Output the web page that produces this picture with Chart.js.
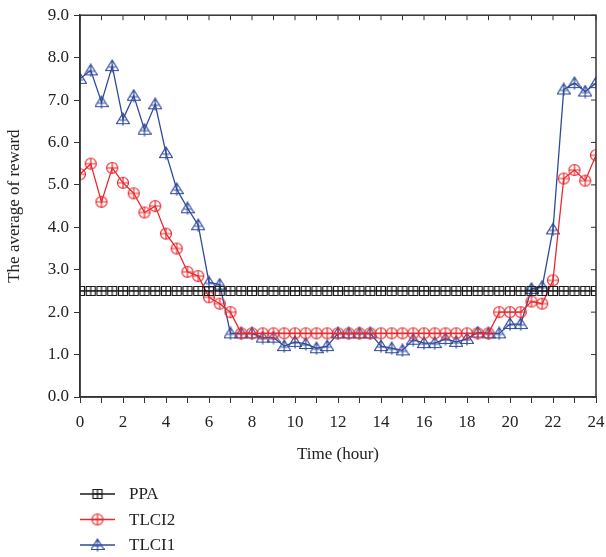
<!DOCTYPE html>
<html>
<head>
<meta charset="utf-8">
<script src="https://cdn.jsdelivr.net/npm/chart.js@4.4.1/dist/chart.umd.min.js"></script>
<style>
  html, body { margin: 0; padding: 0; background: #fff; }
  #wrap { width: 606px; height: 557px; position: relative; }
</style>
</head>
<body>
<div id="wrap"><canvas id="rewardChart"></canvas></div>
<script>
// Data
const hours = [0, 0.5, 1, 1.5, 2, 2.5, 3, 3.5, 4, 4.5, 5, 5.5, 6, 6.5, 7, 7.5, 8, 8.5, 9, 9.5,
  10, 10.5, 11, 11.5, 12, 12.5, 13, 13.5, 14, 14.5, 15, 15.5, 16, 16.5, 17, 17.5, 18, 18.5, 19, 19.5,
  20, 20.5, 21, 21.5, 22, 22.5, 23, 23.5, 24];

const ppa = [2.5, 2.5, 2.5, 2.5, 2.5, 2.5, 2.5, 2.5, 2.5, 2.5, 2.5, 2.5, 2.5, 2.5, 2.5, 2.5, 2.5, 2.5, 2.5, 2.5,
  2.5, 2.5, 2.5, 2.5, 2.5, 2.5, 2.5, 2.5, 2.5, 2.5, 2.5, 2.5, 2.5, 2.5, 2.5, 2.5, 2.5, 2.5, 2.5, 2.5,
  2.5, 2.5, 2.5, 2.5, 2.5, 2.5, 2.5, 2.5, 2.5];

const tlci2 = [5.25, 5.5, 4.6, 5.4, 5.05, 4.8, 4.35, 4.5, 3.85, 3.5, 2.95, 2.85, 2.35, 2.2, 2.0, 1.5, 1.5, 1.5, 1.5, 1.5,
  1.5, 1.5, 1.5, 1.5, 1.5, 1.5, 1.5, 1.5, 1.5, 1.5, 1.5, 1.5, 1.5, 1.5, 1.5, 1.5, 1.5, 1.5, 1.5, 2.0,
  2.0, 2.0, 2.25, 2.2, 2.75, 5.15, 5.35, 5.1, 5.7];

const tlci1 = [7.5, 7.7, 6.95, 7.8, 6.55, 7.1, 6.3, 6.9, 5.75, 4.9, 4.45, 4.05, 2.7, 2.65, 1.5, 1.5, 1.5, 1.4, 1.4, 1.2,
  1.3, 1.25, 1.15, 1.2, 1.5, 1.5, 1.5, 1.5, 1.2, 1.15, 1.1, 1.35, 1.27, 1.27, 1.37, 1.3, 1.37, 1.52, 1.5, 1.5,
  1.72, 1.72, 2.55, 2.6, 3.95, 7.25, 7.4, 7.2, 7.4];

const seriesNames = ['PPA', 'TLCI2', 'TLCI1'];
const xTickMax = 24;
const yTickMax = 9;

const colors = { PPA: '#1a1a1a', TLCI2: '#e8282c', TLCI1: '#2f4a9c' };
const serif = "'Liberation Serif', 'DejaVu Serif', serif";

// Marker images: square/circle/triangle with a cross inside
function makeMarker(kind, color) {
  const c = document.createElement('canvas');
  const s = 14;
  c.width = s; c.height = s;
  const g = c.getContext('2d');
  g.strokeStyle = color;
  g.lineWidth = 1.2;
  const m = s / 2;
  g.beginPath();
  if (kind === 'square') {
    g.rect(m - 4.5, m - 4.5, 9, 9);
    g.moveTo(m, m - 4.5); g.lineTo(m, m + 4.5);
    g.moveTo(m - 4.5, m); g.lineTo(m + 4.5, m);
  } else if (kind === 'circle') {
    g.arc(m, m, 5.5, 0, Math.PI * 2);
    g.moveTo(m, m - 5.5); g.lineTo(m, m + 5.5);
    g.moveTo(m - 5.5, m); g.lineTo(m + 5.5, m);
  } else {
    g.moveTo(m, m - 6); g.lineTo(m + 6.5, m + 4.5); g.lineTo(m - 6.5, m + 4.5); g.closePath();
    g.moveTo(m, m - 6); g.lineTo(m, m + 6.5);
    g.moveTo(m - 3.5, m + 1); g.lineTo(m + 3.5, m + 1);
  }
  g.stroke();
  return c;
}

const markers = {
  PPA: makeMarker('square', colors.PPA),
  TLCI2: makeMarker('circle', colors.TLCI2),
  TLCI1: makeMarker('triangle', colors.TLCI1)
};

// Frame plus inward ticks on top and right
const framePlugin = {
  id: 'frame',
  afterDraw(chart) {
    const { ctx, chartArea: a, scales } = chart;
    ctx.save();
    ctx.strokeStyle = '#333';
    ctx.lineWidth = 1.5;
    ctx.strokeRect(a.left, a.top, a.right - a.left, a.bottom - a.top);
    ctx.lineWidth = 1;
    ctx.beginPath();
    scales.x.ticks.forEach(t => {
      const px = scales.x.getPixelForValue(t.value);
      ctx.moveTo(px, a.top); ctx.lineTo(px, a.top + 5);
    });
    scales.y.ticks.forEach(t => {
      const py = scales.y.getPixelForValue(t.value);
      ctx.moveTo(a.right, py); ctx.lineTo(a.right - 5, py);
    });
    ctx.stroke();
    ctx.restore();
  }
};

// Vertical legend below the plot
const legendPlugin = {
  id: 'stackLegend',
  afterDraw(chart) {
    const ctx = chart.ctx;
    ctx.save();
    ctx.font = '17px ' + serif;
    ctx.textBaseline = 'middle';
    seriesNames.forEach((name, i) => {
      const y = 494 + i * 25.5;
      ctx.strokeStyle = colors[name];
      ctx.lineWidth = 1.3;
      ctx.beginPath();
      ctx.moveTo(80, y); ctx.lineTo(115, y);
      ctx.stroke();
      const img = markers[name];
      ctx.drawImage(img, 97.5 - img.width / 2, y - img.height / 2);
      ctx.fillStyle = '#222';
      ctx.fillText(name, 129, y + 1);
    });
    ctx.restore();
  }
};

const datasets = [
  { label: 'PPA', data: ppa },
  { label: 'TLCI2', data: tlci2 },
  { label: 'TLCI1', data: tlci1 }
].map(d => ({
  label: d.label,
  data: hours.map((h, i) => ({ x: h, y: d.data[i] })),
  borderColor: colors[d.label],
  backgroundColor: 'transparent',
  pointBackgroundColor: 'transparent',
  borderWidth: 1.3,
  pointStyle: markers[d.label],
  pointRadius: 6,
  pointHoverRadius: 6,
  tension: 0,
  fill: false
}));

new Chart(document.getElementById('rewardChart'), {
  type: 'line',
  data: { datasets: datasets },
  options: {
    responsive: true,
    maintainAspectRatio: false,
    animation: false,
    events: [],
    layout: { padding: { left: 0, top: 14, right: 10, bottom: 88 } },
    plugins: {
      legend: { display: false },
      tooltip: { enabled: false }
    },
    scales: {
      x: {
        type: 'linear',
        min: 0,
        max: xTickMax,
        afterFit: s => { s.height = 72; s.paddingRight = 0; },
        grid: { drawOnChartArea: false, drawTicks: true, tickLength: 6, color: '#333' },
        border: { display: true, color: '#333', width: 1.5 },
        ticks: {
          stepSize: 1,
          autoSkip: false,
          maxRotation: 0,
          padding: 9,
          color: '#222',
          font: { family: serif, size: 17 },
          callback: v => (v % 2 === 0 ? String(v) : '')
        },
        title: {
          display: true,
          text: 'Time (hour)',
          color: '#222',
          font: { family: serif, size: 17 },
          padding: { top: 2 }
        }
      },
      y: {
        min: 0,
        max: yTickMax,
        afterFit: s => { s.width = 80; },
        grid: { drawOnChartArea: false, drawTicks: true, tickLength: 6, color: '#333' },
        border: { display: true, color: '#333', width: 1.5 },
        ticks: {
          stepSize: 0.5,
          padding: 5,
          color: '#222',
          font: { family: serif, size: 17 },
          callback: v => v.toFixed(1)
        },
        title: {
          display: true,
          text: 'The average of reward',
          color: '#222',
          font: { family: serif, size: 17 },
          padding: { bottom: 2 }
        }
      }
    }
  },
  plugins: [framePlugin, legendPlugin]
});
</script>
</body>
</html>
